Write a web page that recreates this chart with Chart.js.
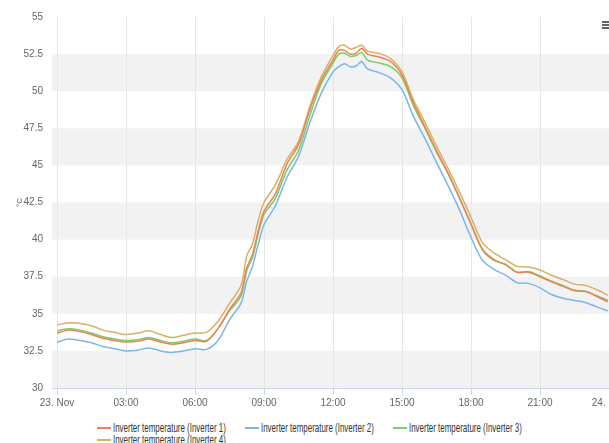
<!DOCTYPE html>
<html>
<head>
<meta charset="utf-8">
<title>Inverter temperature</title>
<script src="https://cdn.jsdelivr.net/npm/chart.js@4/dist/chart.umd.min.js"></script>
<style>
    html, body { margin: 0; padding: 0; background: #fff; }
    body {
        width: 609px; height: 443px; overflow: hidden; position: relative;
        font-family: 'Liberation Sans', Arial, sans-serif;
    }
    #chartBox { position: absolute; left: 0; top: 0; width: 640px; height: 412px; }
    .legend-item {
        position: absolute; display: flex; align-items: center;
        font-size: 13px; color: #333; white-space: nowrap; line-height: 13px;
    }
    .legend-item .mark { width: 14px; height: 2px; margin-right: 2px; flex: none; }
    .legend-item .txt { display: inline-block; transform: scaleX(0.61); transform-origin: left center; }
    #menuIcon {
        position: absolute; left: 602px; top: 21px; width: 10px; height: 8px;
        border-top: 2px solid #666; border-bottom: 2px solid #666; box-sizing: border-box;
    }
    #menuIcon::after {
        content: ''; position: absolute; left: 0; right: 0; top: 1px; height: 2px; background: #666;
    }
</style>
</head>
<body>
<div id="chartBox"><canvas id="tempChart"></canvas></div>
<div id="legend"></div>
<div id="menuIcon"></div>

<script>
// ---- data (hours since 23. Nov 00:00) ----
const hours = [0, 0.5, 1, 1.5, 2, 2.5, 3, 3.5, 4, 4.5, 5, 5.5, 6, 6.5, 7, 7.5, 8, 8.25, 8.5, 8.75,
    9, 9.5, 10, 10.5, 11, 11.5, 12, 12.25, 12.5, 12.75, 13, 13.25, 13.5, 14, 14.5, 15, 15.5, 16,
    16.5, 17, 17.5, 18, 18.5, 19, 19.5, 20, 20.5, 21, 21.5, 22, 22.5, 23, 23.5, 23.95];

const inverter1 = [33.7, 33.9, 33.8, 33.6, 33.35, 33.2, 33.1, 33.15, 33.3, 33.1, 32.95, 33.05, 33.2, 33.15,
    34.0, 35.3, 36.4, 38.1, 39.0, 40.6, 41.9, 43.1, 45.1, 46.4, 48.8, 50.75, 52.1, 52.75, 52.75, 52.5,
    52.55, 52.9, 52.5, 52.3, 52.0, 51.1, 49.2, 47.6, 46.0, 44.5, 42.8, 41.05, 39.35, 38.65, 38.3, 37.8,
    37.8, 37.5, 37.15, 36.85, 36.55, 36.5, 36.15, 35.8];

const inverter2 = [33.1, 33.3, 33.2, 33.05, 32.8, 32.65, 32.5, 32.55, 32.7, 32.5, 32.4, 32.5, 32.65, 32.6,
    33.2, 34.6, 35.7, 37.2, 38.2, 39.7, 41.0, 42.3, 44.2, 45.6, 47.9, 49.9, 51.3, 51.65, 51.85, 51.65,
    51.7, 52.0, 51.5, 51.25, 50.9, 50.1, 48.3, 46.8, 45.2, 43.65, 42.0, 40.15, 38.6, 38.0, 37.6, 37.1,
    37.05, 36.75, 36.3, 36.05, 35.9, 35.75, 35.45, 35.2];

const inverter3 = [33.85, 34.0, 33.9, 33.7, 33.45, 33.3, 33.2, 33.25, 33.4, 33.2, 33.05, 33.15, 33.3, 33.2,
    34.0, 35.2, 36.2, 37.9, 38.8, 40.4, 41.7, 42.8, 44.7, 46.0, 48.4, 50.55, 51.9, 52.5, 52.55, 52.35,
    52.4, 52.6, 52.1, 51.9, 51.65, 50.9, 49.0, 47.5, 45.9, 44.45, 42.8, 41.05, 39.3, 38.6, 38.35, 37.8,
    37.85, 37.55, 37.2, 36.9, 36.6, 36.5, 36.2, 35.9];

const inverter4 = [34.25, 34.4, 34.35, 34.2, 33.9, 33.75, 33.6, 33.7, 33.85, 33.6, 33.4, 33.55, 33.7, 33.75,
    34.5, 35.7, 36.9, 38.9, 39.7, 41.3, 42.5, 43.7, 45.4, 46.6, 49.0, 51.0, 52.4, 53.0, 53.1, 52.85,
    52.95, 53.1, 52.7, 52.55, 52.2, 51.3, 49.4, 47.9, 46.3, 44.8, 43.2, 41.5, 39.8, 39.1, 38.65, 38.2,
    38.15, 37.95, 37.6, 37.3, 37.0, 36.9, 36.6, 36.25];

const seriesNames = ['Inverter temperature (Inverter 1)', 'Inverter temperature (Inverter 2)',
    'Inverter temperature (Inverter 3)', 'Inverter temperature (Inverter 4)'];

const xTickValues = [0, 3, 6, 9, 12, 15, 18, 21, 24];
const xTickLabels = ['23. Nov', '03:00', '06:00', '09:00', '12:00', '15:00', '18:00', '21:00', '24. Nov'];
const yTickValues = [30, 32.5, 35, 37.5, 40, 42.5, 45, 47.5, 50, 52.5, 55];

// ---- styles ----
const seriesColors = ['#ec8257', '#7cb5ec', '#78cf62', '#d8b063'];
const legendSlots = [[97, 421], [245, 421], [393, 421], [97, 433]];
const tickFont = { family: "'Liberation Sans', Arial, sans-serif", size: 10 };

// alternate grey bands behind the plot
const bandPlugin = {
    id: 'bands',
    beforeDraw(chart) {
        const { ctx, chartArea, scales } = chart;
        ctx.save();
        ctx.fillStyle = '#f2f2f2';
        for (let i = 0; i < yTickValues.length - 1; i += 2) {
            const top = scales.y.getPixelForValue(yTickValues[i + 1]);
            const bottom = scales.y.getPixelForValue(yTickValues[i]);
            ctx.fillRect(chartArea.left, top, chartArea.right - chartArea.left, bottom - top);
        }
        ctx.restore();
    }
};

function buildDatasets() {
    const series = [inverter1, inverter2, inverter3, inverter4];
    return series.map((values, i) => ({
        label: seriesNames[i],
        data: hours.map((h, j) => ({ x: h, y: values[j] })),
        borderColor: seriesColors[i],
        backgroundColor: seriesColors[i],
        borderWidth: 1.5,
        pointRadius: 0,
        tension: 0.3,
        fill: false
    }));
}

function renderChart() {
    const ctx = document.getElementById('tempChart');
    return new Chart(ctx.getContext('2d'), {
        type: 'line',
        data: { datasets: buildDatasets() },
        plugins: [bandPlugin],
        options: {
            responsive: true,
            maintainAspectRatio: false,
            animation: false,
            layout: { padding: { top: 17, right: 20, left: 0, bottom: 0 } },
            plugins: {
                legend: { display: false },
                tooltip: { enabled: false }
            },
            scales: {
                x: {
                    type: 'linear',
                    min: -5 / 23,
                    max: 24 + 11 / 23,
                    afterBuildTicks: scale => { scale.ticks = xTickValues.map(v => ({ value: v })); },
                    afterFit: scale => { scale.height = 24; },
                    ticks: {
                        autoSkip: false,
                        maxRotation: 0,
                        padding: 2,
                        color: '#666',
                        font: tickFont,
                        callback: v => xTickLabels[xTickValues.indexOf(v)]
                    },
                    grid: { color: '#e6e6e6', tickColor: '#ccd6eb', tickLength: 7 },
                    border: { display: true, color: '#ccd6eb' }
                },
                y: {
                    min: 30,
                    max: 55,
                    afterBuildTicks: scale => { scale.ticks = yTickValues.map(v => ({ value: v })); },
                    afterFit: scale => { scale.width = 52; },
                    ticks: {
                        padding: 9,
                        color: '#666',
                        font: tickFont,
                        callback: v => String(v)
                    },
                    grid: { display: false, drawTicks: false },
                    border: { display: false },
                    title: {
                        display: true,
                        text: '°C',
                        color: '#666',
                        font: { family: tickFont.family, size: 8 },
                        padding: { top: 15, bottom: 0 }
                    }
                }
            }
        }
    });
}

// html legend, laid out in columns like the original
function renderLegend() {
    const box = document.getElementById('legend');
    box.innerHTML = seriesNames.map((name, i) => `
        <div class="legend-item" style="left:${legendSlots[i][0]}px; top:${legendSlots[i][1]}px">
            <span class="mark" style="background:${seriesColors[i]}"></span>
            <span class="txt">${name}</span>
        </div>
    `).join('');
}

renderChart();
renderLegend();
</script>
</body>
</html>
